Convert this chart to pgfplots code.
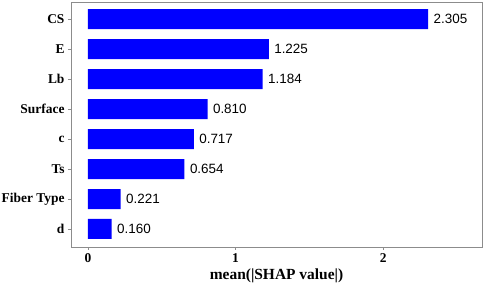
\documentclass[border=0pt]{standalone}
\usepackage{fontspec}
\setmainfont{Liberation Serif}
\newfontfamily\arial{Liberation Sans}
\usepackage{pgfplots}
\pgfplotsset{compat=1.18}
\begin{document}
\begin{tikzpicture}
\begin{axis}[
 scale only axis, width=411bp, height=245bp,
 xbar, bar width=20bp,
 xmin=-0.115, xmax=2.67, ymin=0.4, ymax=8.57,
 xtick={0,1,2}, ytick={1,...,8},
 yticklabels={d,Fiber Type,Ts,c,Surface,Lb,E,CS},
 xtick pos=bottom, ytick pos=left, tick align=outside,
 major tick length=3bp,
 axis line style={draw=gray!90},
 every tick/.style={gray!90, line width=0.6pt},
 tick label style={font=\fontsize{13.5}{15}\selectfont\bfseries, text=black},
 /pgf/number format/assume math mode=true,
 xlabel={mean(|SHAP value|)},
 xlabel style={font=\fontsize{15.5}{17}\selectfont\bfseries, yshift=1bp},
 point meta=x,
 nodes near coords={\pgfmathprintnumber[fixed,fixed zerofill,precision=3]{\pgfplotspointmeta}},
 every node near coord/.append style={font=\arial\fontsize{13.5}{15}\selectfont, anchor=west, xshift=2bp, text=black},
]
\addplot[fill=blue, draw=none] coordinates {
 (0.160,1) (0.221,2) (0.654,3) (0.717,4) (0.810,5) (1.184,6) (1.225,7) (2.305,8)
};
\end{axis}
\pgfresetboundingbox
\path ([shift={(-71bp,-37bp)}]current axis.south west) rectangle ([shift={(2bp,2bp)}]current axis.north east);
\end{tikzpicture}
\end{document}
